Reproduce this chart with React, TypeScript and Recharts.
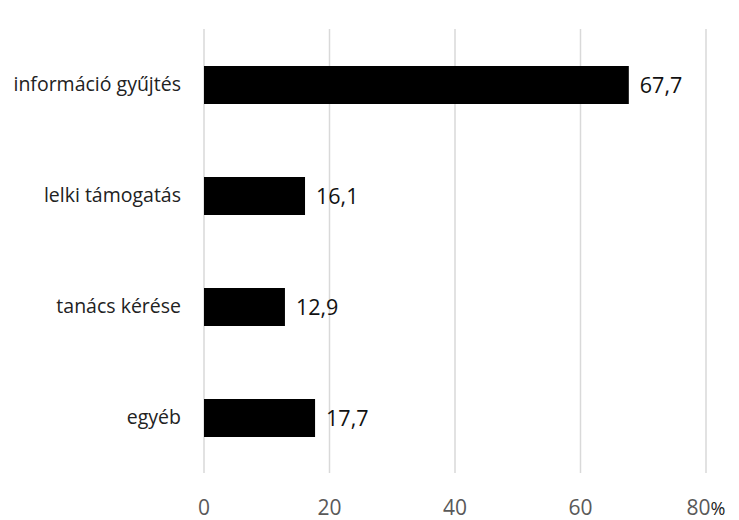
import { BarChart, Bar, XAxis, YAxis, CartesianGrid, LabelList } from 'recharts';

const categories = ['információ gyűjtés', 'lelki támogatás', 'tanács kérése', 'egyéb'];
const values = [67.7, 16.1, 12.9, 17.7];
const xTicks = [0, 20, 40, 60, 80];

const data = categories.map((name, i) => ({ name, value: values[i] }));

const FONT = '"Open Sans", "Liberation Sans", sans-serif';

function XTick({ x, y, payload }: any) {
  const isLast = payload.value === 80;
  return (
    <text x={x} y={y + 34} textAnchor="middle" fill="#595959" fontSize={21} fontFamily={FONT}>
      {payload.value}
      {isLast && <tspan fill="#222" fontSize={18}>%</tspan>}
    </text>
  );
}

function YTick({ x, y, payload }: any) {
  return (
    <text x={x - 15} y={y} dy={6} textAnchor="end" fill="#222" fontSize={19.5} fontFamily={FONT}>
      {payload.value}
    </text>
  );
}

export default function App() {
  return (
    <div style={{ position: 'absolute', left: 0, top: 0, width: 739, height: 520, background: '#fff' }}>
      <BarChart
        width={739}
        height={520}
        data={data}
        layout="vertical"
        margin={{ top: 29, right: 33, bottom: 0, left: 0 }}
      >
        <CartesianGrid horizontal={false} stroke="#d9d9d9" strokeWidth={1.5} />
        <XAxis
          type="number"
          domain={[0, 80]}
          ticks={xTicks}
          axisLine={false}
          tickLine={false}
          height={47}
          tick={<XTick />}
          interval={0}
        />
        <YAxis
          type="category"
          dataKey="name"
          width={204}
          axisLine={false}
          tickLine={false}
          tick={<YTick />}
        />
        <Bar dataKey="value" fill="#000" barSize={38} isAnimationActive={false}>
          <LabelList
            dataKey="value"
            position="right"
            offset={11}
            fill="#111"
            fontSize={21.5}
            fontFamily={FONT}
            formatter={(v: any) => String(v).replace('.', ',')}
          />
        </Bar>
      </BarChart>
    </div>
  );
}
